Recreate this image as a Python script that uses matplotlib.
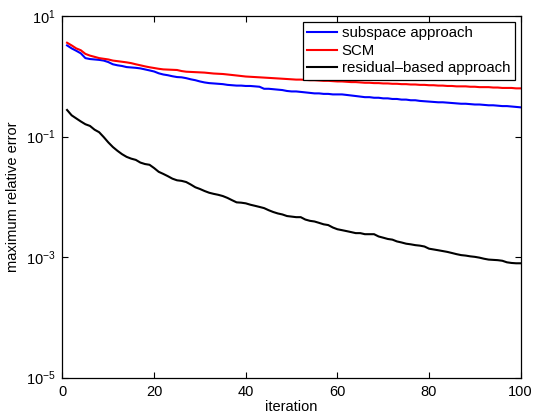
import numpy as np
import matplotlib
matplotlib.use("Agg")
import matplotlib.pyplot as plt
from matplotlib.ticker import NullLocator, FixedLocator

plt.rcParams['font.family'] = ['Liberation Sans', 'DejaVu Sans']
plt.rcParams['mathtext.fontset'] = 'custom'
plt.rcParams['mathtext.rm'] = 'Liberation Sans'
plt.rcParams['mathtext.it'] = 'Liberation Sans'

iterations = list(range(1, 101))

subspace_err = [
    3.25, 2.90, 2.65, 2.40, 2.00, 1.93, 1.90, 1.87, 1.82, 1.72,
    1.58, 1.52, 1.48, 1.42, 1.40, 1.38, 1.35, 1.30, 1.25, 1.20,
    1.12, 1.07, 1.04, 1.00, 0.97, 0.96, 0.93, 0.89, 0.86, 0.82,
    0.79, 0.77, 0.76, 0.75, 0.74, 0.72, 0.71, 0.70, 0.70, 0.69,
    0.69, 0.68, 0.67, 0.62, 0.62, 0.61, 0.60, 0.59, 0.57, 0.56,
    0.56, 0.55, 0.54, 0.53, 0.52, 0.52, 0.51, 0.51, 0.50, 0.50,
    0.50, 0.49, 0.48, 0.47, 0.46, 0.45, 0.45, 0.44, 0.44, 0.43,
    0.43, 0.42, 0.42, 0.41, 0.41, 0.40, 0.40, 0.39, 0.385, 0.38,
    0.375, 0.37, 0.37, 0.365, 0.36, 0.355, 0.35, 0.35, 0.345, 0.34,
    0.34, 0.335, 0.33, 0.33, 0.325, 0.32, 0.32, 0.315, 0.31, 0.305,
]

scm_err = [
    3.60, 3.25, 2.90, 2.70, 2.35, 2.20, 2.10, 2.00, 1.95, 1.90,
    1.82, 1.78, 1.74, 1.70, 1.65, 1.58, 1.52, 1.46, 1.41, 1.37,
    1.33, 1.30, 1.29, 1.28, 1.27, 1.22, 1.19, 1.18, 1.17, 1.16,
    1.15, 1.13, 1.11, 1.10, 1.09, 1.07, 1.05, 1.03, 1.01, 0.99,
    0.98, 0.97, 0.96, 0.95, 0.94, 0.93, 0.92, 0.91, 0.90, 0.89,
    0.88, 0.88, 0.87, 0.86, 0.86, 0.85, 0.84, 0.84, 0.83, 0.82,
    0.82, 0.81, 0.80, 0.80, 0.79, 0.78, 0.78, 0.77, 0.77, 0.76,
    0.76, 0.75, 0.75, 0.74, 0.74, 0.73, 0.73, 0.72, 0.72, 0.71,
    0.71, 0.70, 0.70, 0.69, 0.69, 0.68, 0.68, 0.68, 0.67, 0.67,
    0.66, 0.66, 0.66, 0.65, 0.65, 0.64, 0.64, 0.64, 0.63, 0.63,
]

residual_err = [
    0.276, 0.225, 0.200, 0.178, 0.160, 0.150, 0.130, 0.118, 0.098, 0.080,
    0.067, 0.058, 0.051, 0.046, 0.043, 0.041, 0.037, 0.035, 0.034, 0.030,
    0.026, 0.024, 0.022, 0.020, 0.0188, 0.0184, 0.0176, 0.0160, 0.0144, 0.0135,
    0.0125, 0.0117, 0.0112, 0.0108, 0.0103, 0.0096, 0.0088, 0.0081, 0.0080, 0.0078,
    0.0074, 0.0071, 0.0068, 0.0065, 0.0060, 0.0056, 0.0053, 0.0051, 0.0048, 0.0047,
    0.0046, 0.0046, 0.0042, 0.0040, 0.0039, 0.0037, 0.0035, 0.0034, 0.0031, 0.0029,
    0.0028, 0.0027, 0.0026, 0.0025, 0.0025, 0.0024, 0.0024, 0.0024, 0.0022, 0.0021,
    0.0020, 0.00195, 0.00182, 0.00175, 0.00167, 0.00163, 0.00158, 0.00155, 0.00150, 0.00138,
    0.00134, 0.00130, 0.00126, 0.00122, 0.00117, 0.00112, 0.00108, 0.00106, 0.00103, 0.00101,
    0.00098, 0.00094, 0.00091, 0.00090, 0.00089, 0.00087, 0.00082, 0.00080, 0.00079, 0.00079,
]

series_labels = ["subspace approach", "SCM", "residual\u2013based approach"]
x_ticks = [0, 20, 40, 60, 80, 100]
y_ticks = [1e-5, 1e-3, 1e-1, 1e1]
y_tick_labels = [r"$\mathregular{10^{-5}}$", r"$\mathregular{10^{-3}}$",
                 r"$\mathregular{10^{-1}}$", r"$\mathregular{10^{1}}$"]

fig = plt.figure(figsize=(5.4, 4.16), dpi=100)
ax = fig.add_axes([0.1157, 0.0921, 0.8485, 0.8695])

ax.plot(iterations, subspace_err, color="#0000ff", lw=1.5, label=series_labels[0])
ax.plot(iterations, scm_err, color="#ff0000", lw=1.5, label=series_labels[1])
ax.plot(iterations, residual_err, color="#000000", lw=1.5, label=series_labels[2])

ax.set_yscale("log")
ax.set_xlim(0, 100)
ax.set_ylim(1e-5, 1e1)
ax.xaxis.set_major_locator(FixedLocator(x_ticks))
ax.yaxis.set_major_locator(FixedLocator(y_ticks))
ax.yaxis.set_minor_locator(NullLocator())
ax.xaxis.set_minor_locator(NullLocator())
ax.set_yticklabels(y_tick_labels)

ax.tick_params(direction="in", length=4, width=0.8, top=True, right=True,
               labelsize=10.5, pad=5, colors="black")
for s in ax.spines.values():
    s.set_linewidth(0.9)
    s.set_color("black")

ax.set_xlabel("iteration", fontsize=10.5, labelpad=1)
ax.set_ylabel("maximum relative error", fontsize=10.5, labelpad=4)

leg = ax.legend(loc="upper right", fontsize=10.8, frameon=True, fancybox=False,
                edgecolor="black", framealpha=1, borderpad=0.3, labelspacing=0.22,
                handlelength=2.0, handletextpad=0.3, borderaxespad=0.4)
leg.get_frame().set_linewidth(0.9)

fig.savefig("out.png", dpi=100)
